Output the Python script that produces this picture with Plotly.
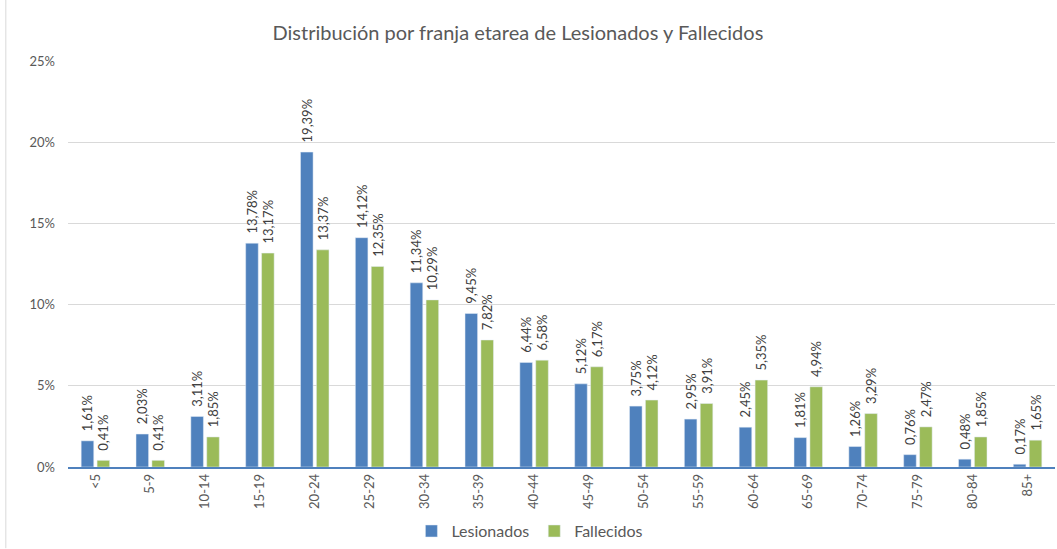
import plotly.graph_objects as go

franjas = ["<5", "5-9", "10-14", "15-19", "20-24", "25-29", "30-34", "35-39", "40-44",
           "45-49", "50-54", "55-59", "60-64", "65-69", "70-74", "75-79", "80-84", "85+"]
lesionados = [1.61, 2.03, 3.11, 13.78, 19.39, 14.12, 11.34, 9.45, 6.44,
              5.12, 3.75, 2.95, 2.45, 1.81, 1.26, 0.76, 0.48, 0.17]
fallecidos = [0.41, 0.41, 1.85, 13.17, 13.37, 12.35, 10.29, 7.82, 6.58,
              6.17, 4.12, 3.91, 5.35, 4.94, 3.29, 2.47, 1.85, 1.65]

font = "Lato"
gris = "#595959"

fig = go.Figure()
for nombre, valores, color in [("Lesionados", lesionados, "#4F81BD"),
                               ("Fallecidos", fallecidos, "#9BBB59")]:
    fig.add_trace(go.Bar(x=franjas, y=[v / 100 for v in valores], name=nombre,
                         marker_color=color, texttemplate="  %{y:.2%}", textposition="outside",
                         textangle=-90, constraintext="none",
                         textfont=dict(family=font, size=13, color="#404040"),
                         cliponaxis=False))

fig.update_layout(
    width=1057, height=549,
    margin=dict(l=68, r=2, t=61, b=81),
    paper_bgcolor="white", plot_bgcolor="white",
    separators=",.",
    barmode="group", bargap=0.42, bargroupgap=0.21,
    title=dict(text="Distribución por franja etarea de Lesionados y Fallecidos",
               x=0.49, xanchor="center", y=0.94, yanchor="middle",
               font=dict(family=font, size=20, color=gris)),
    font=dict(family=font, color=gris),
    legend=dict(orientation="h", x=0.468, xanchor="center", y=-0.155, yanchor="middle",
                font=dict(family=font, size=16, color=gris), itemwidth=30),
    showlegend=True,
    shapes=[dict(type="line", xref="paper", yref="paper", x0=-0.063, x1=-0.063,
                 y0=-0.2, y1=1.16, line=dict(color="#D9D9D9", width=1))],
)
fig.update_xaxes(tickangle=-90, tickfont=dict(family=font, size=13, color=gris),
                 showline=True, linecolor="#4F81BD", linewidth=1.5, ticks="",
                 automargin=False)
fig.update_yaxes(range=[0, 0.25], dtick=0.05, tickformat=".0%",
                 tickfont=dict(family=font, size=13, color=gris),
                 showgrid=True, gridcolor="#D9D9D9", zeroline=False, ticks="",
                 ticklabelstandoff=12, automargin=False)

fig.write_html("out.html", config={"displayModeBar": False},
               post_script="document.body.style.margin='0';")
